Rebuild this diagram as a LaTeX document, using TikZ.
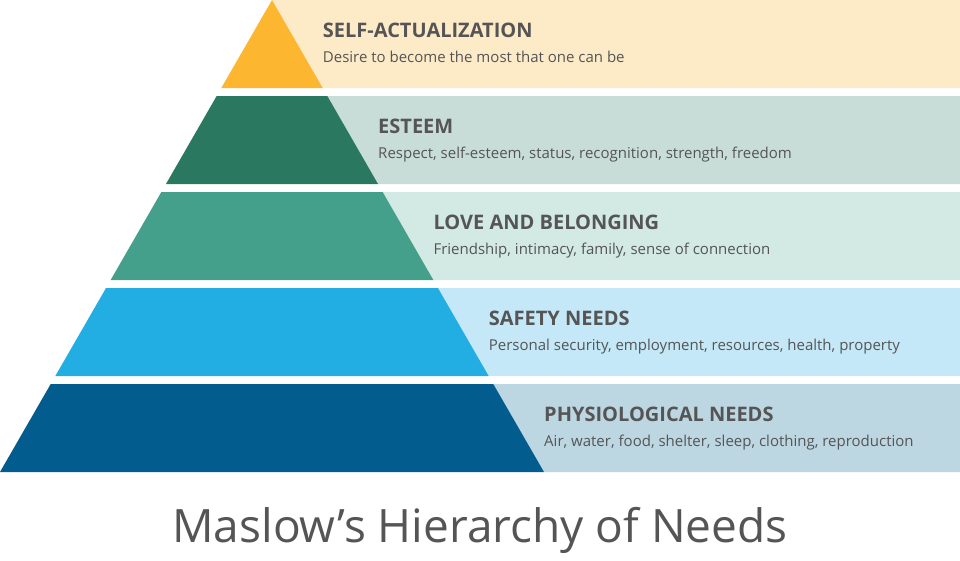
\documentclass[tikz,border=0pt]{standalone}
\usepackage{fontspec}
\setmainfont{Open Sans}
\definecolor{tA}{HTML}{FDB62F}\definecolor{bA}{HTML}{FDEBC8}
\definecolor{tB}{HTML}{2A7860}\definecolor{bB}{HTML}{C9DDD8}
\definecolor{tC}{HTML}{44A08A}\definecolor{bC}{HTML}{D3E9E3}
\definecolor{tD}{HTML}{22AEE2}\definecolor{bD}{HTML}{C4E8F7}
\definecolor{tE}{HTML}{025D8E}\definecolor{bE}{HTML}{BCD6E2}
\definecolor{txt}{HTML}{555555}
\tikzset{ttl/.style={anchor=base west,inner sep=0,font=\fontsize{20}{24}\selectfont\bfseries,text=txt},
 sub/.style={anchor=base west,inner sep=0,font=\fontsize{15}{18}\selectfont,text=txt}}
\begin{document}
\begin{tikzpicture}[x=1pt,y=-1pt]
\useasboundingbox (0,0) rectangle (960,560);
\fill[white] (0,0) rectangle (960,560);
\def\s{0.5763}
\foreach \yt/\yb/\tc/\bc/\n in {0/88/tA/bA/a,96/184/tB/bB/b,192/280/tC/bC/c,288/376/tD/bD/d,384/472/tE/bE/e}{
 \pgfmathsetmacro\lt{272-\s*\yt}\pgfmathsetmacro\lb{272-\s*\yb}
 \pgfmathsetmacro\rt{272+\s*\yt}\pgfmathsetmacro\rb{272+\s*\yb}
 \fill[\bc] (\rt,\yt) -- (960,\yt) -- (960,\yb) -- (\rb,\yb) -- cycle;
 \fill[\tc] (\lt,\yt) -- (\rt,\yt) -- (\rb,\yb) -- (\lb,\yb) -- cycle;
 \coordinate (t\n) at (\rb,\yt+37);
 \coordinate (s\n) at (\rb,\yt+62);
}
\node[ttl] (Ta) at (ta) {SELF-ACTUALIZATION};
\node[sub] (Sa) at (sa) {Desire to become the most that one can be};
\node[ttl] (Tb) at (tb) {ESTEEM};
\node[sub] (Sb) at (sb) {Respect, self-esteem, status, recognition, strength, freedom};
\node[ttl] (Tc) at (tc) {LOVE AND BELONGING};
\node[sub] (Sc) at (sc) {Friendship, intimacy, family, sense of connection};
\node[ttl] (Td) at (td) {SAFETY NEEDS};
\node[sub] (Sd) at (sd) {Personal security, employment, resources, health, property};
\node[ttl] (Te) at (te) {PHYSIOLOGICAL NEEDS};
\node[sub] (Se) at (se) {Air, water, food, shelter, sleep, clothing, reproduction};
\node[anchor=base,inner sep=0,font=\fontsize{46}{54}\selectfont,text=txt] (main) at (480,542) {Maslow’s Hierarchy of Needs};
\end{tikzpicture}
\end{document}
